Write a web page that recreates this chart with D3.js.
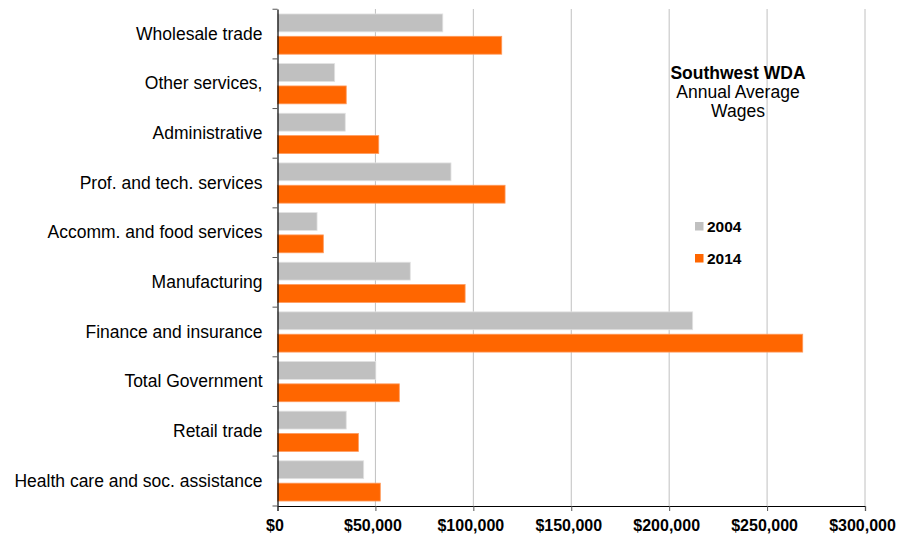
<!DOCTYPE html>
<html>
<head>
<meta charset="utf-8">
<script src="https://cdn.jsdelivr.net/npm/d3@7"></script>
<style>
  body { margin: 0; background: #fff; }
  text { font-family: "Liberation Sans", Arial, sans-serif; }
</style>
</head>
<body>
<script>
const width = 909; //Width of SVG.
const height = 535; //Height of SVG.

const margin = {top: 9, right: 44, bottom: 29, left: 277.5};

// Categories from top to bottom.
const industries = ['Wholesale trade', 'Other services,', 'Administrative', 'Prof. and tech. services',
  'Accomm. and food services', 'Manufacturing', 'Finance and insurance', 'Total Government',
  'Retail trade', 'Health care and soc. assistance'];

const years = ['2004', '2014'];
const wages2004 = [84400, 29200, 34600, 88600, 20200, 67800, 212000, 50200, 35100, 44000];
const wages2014 = [114500, 35100, 51700, 116200, 23400, 95800, 268200, 62200, 41300, 52500];
const xTicks = [0, 50000, 100000, 150000, 200000, 250000, 300000];

const colours = ['#c0c0c0', '#ff6600'];

const rows = industries.map((name, i) => ({name: name, values: [wages2004[i], wages2014[i]]}));

const svg = d3.select('body').append('svg')
  .attr('width', width)
  .attr('height', height);

const xScale = d3.scaleLinear()
  .domain([0, 300000])
  .range([margin.left, width - margin.right]);

const yScale = d3.scaleBand() //One band per industry.
  .domain(industries)
  .range([margin.top, height - margin.bottom])
  .paddingInner(0.19)
  .paddingOuter(0.1);

const ySub = d3.scaleBand() //Bars inside each band.
  .domain(years)
  .range([0, yScale.bandwidth()])
  .paddingInner(0.2);

// Gridlines
svg.append('g')
  .selectAll('line')
  .data(xTicks.slice(1))
  .enter()
  .append('line')
  .attr('x1', d => xScale(d))
  .attr('x2', d => xScale(d))
  .attr('y1', margin.top)
  .attr('y2', height - margin.bottom)
  .attr('stroke', '#c0c0c0')
  .attr('stroke-width', 1);

// Bars
const groups = svg.append('g')
  .selectAll('g')
  .data(rows)
  .enter()
  .append('g')
  .attr('transform', d => 'translate(0,' + yScale(d.name) + ')');

groups.selectAll('rect')
  .data(d => d.values.map((v, i) => ({year: years[i], value: v, i: i})))
  .enter()
  .append('rect')
  .attr('x', xScale(0))
  .attr('y', d => ySub(d.year))
  .attr('width', d => xScale(d.value) - xScale(0))
  .attr('height', ySub.bandwidth())
  .attr('fill', d => colours[d.i])
  .attr('stroke', d => d.i === 0 ? '#e2e2e2' : '#ff9a5c')
  .attr('stroke-width', 0.8);

// X axis
const xAxis = d3.axisBottom(xScale)
  .tickValues(xTicks)
  .tickSize(5)
  .tickPadding(9)
  .tickFormat(d => '$' + d3.format(',')(d));

const gx = svg.append('g')
  .attr('transform', 'translate(0,' + (height - margin.bottom) + ')')
  .call(xAxis);
gx.select('.domain').attr('stroke', '#000').attr('stroke-width', 1.2);
gx.selectAll('.tick line').attr('stroke', '#555');
gx.selectAll('.tick text')
  .attr('fill', '#000')
  .attr('dx', -3)
  .style('font-size', '16px')
  .style('font-weight', 'bold');

// Y axis
const yAxis = d3.axisLeft(yScale)
  .tickSize(0)
  .tickPadding(15);

const gy = svg.append('g')
  .attr('transform', 'translate(' + margin.left + ',0)')
  .call(yAxis);
gy.select('.domain').attr('stroke', '#000').attr('stroke-width', 1.2);
gy.selectAll('.tick text')
  .attr('fill', '#000')
  .style('font-size', '17.5px');

// Category separators on the y axis
const bounds = industries.map(d => yScale(d) - yScale.step() * yScale.paddingInner() / 2)
  .concat([height - margin.bottom]);
svg.append('g')
  .selectAll('line')
  .data(bounds)
  .enter()
  .append('line')
  .attr('x1', margin.left - 5)
  .attr('x2', margin.left)
  .attr('y1', d => d)
  .attr('y2', d => d)
  .attr('stroke', '#555');

// Title
const title = svg.append('text')
  .attr('x', 738)
  .attr('y', 78.5)
  .attr('text-anchor', 'middle')
  .style('font-size', '17.5px')
  .attr('fill', '#000');
title.append('tspan').attr('x', 738).style('font-weight', 'bold').text('Southwest WDA');
title.append('tspan').attr('x', 738).attr('dy', 19.5).text('Annual Average');
title.append('tspan').attr('x', 738).attr('dy', 19.2).text('Wages');

// Legend
const legend = svg.append('g')
  .selectAll('g')
  .data(years)
  .enter()
  .append('g')
  .attr('transform', (d, i) => 'translate(695,' + (222 + i * 32) + ')');

legend.append('rect')
  .attr('width', 8.5)
  .attr('height', 8.5)
  .attr('fill', (d, i) => colours[i]);

legend.append('text')
  .attr('x', 12)
  .attr('y', 10)
  .style('font-size', '15.5px')
  .style('font-weight', 'bold')
  .attr('fill', '#000')
  .text(d => d);
</script>
</body>
</html>
